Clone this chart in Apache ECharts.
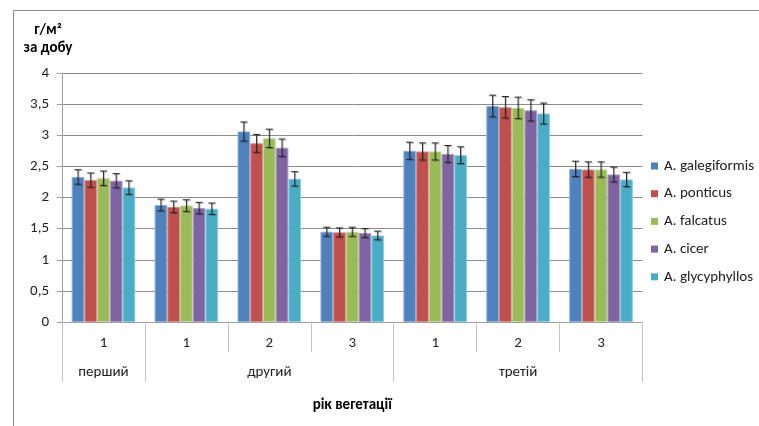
<!DOCTYPE html>
<html>
<head>
<meta charset="utf-8">
<script src="https://cdn.jsdelivr.net/npm/echarts@6/dist/echarts.min.js"></script>
<style>
html,body{margin:0;padding:0;background:#fff;}
#c{width:759px;height:426px;}
</style>
</head>
<body>
<div id="c"></div>
<script>
// ---- data ----
const subCategories = ['1', '1', '2', '3', '1', '2', '3'];
const yearLabels = ['перший', '', 'другий', '', '', 'третій', ''];
const yearTickStarts = [0, 1, 4]; // first category index of each year group
const seriesNames = ['A. galegiformis', 'A. ponticus', 'A. falcatus', 'A. cicer', 'A. glycyphyllos'];
const galegiformis = [2.33, 1.88, 3.06, 1.45, 2.75, 3.47, 2.46];
const ponticus     = [2.28, 1.85, 2.87, 1.44, 2.74, 3.45, 2.45];
const falcatus     = [2.31, 1.87, 2.95, 1.45, 2.74, 3.44, 2.45];
const cicer        = [2.27, 1.83, 2.80, 1.43, 2.70, 3.40, 2.37];
const glycyphyllos = [2.16, 1.82, 2.30, 1.39, 2.68, 3.35, 2.29];
const errorPercent = 0.05; // percentage error bars (±5%)
const yTicks = { min: 0, max: 4, interval: 0.5 };

// ---- styling ----
const seriesValues = [galegiformis, ponticus, falcatus, cicer, glycyphyllos];
const colors = ['#4F81BD', '#C0504D', '#9BBB59', '#8064A2', '#4BACC6'];
const borders = ['#8FB1DA', '#D98F8D', '#C0D69A', '#AE9CC6', '#8DCDDE'];
const FONT = 'Carlito, Lato, sans-serif';
const FS = 15;
const categoryGap = 0.233;
const nSeries = seriesNames.length;

const chart = echarts.init(document.getElementById('c'), null, { renderer: 'canvas' });

const series = [];
seriesValues.forEach((vals, k) => {
  series.push({
    name: seriesNames[k],
    type: 'bar',
    data: vals,
    barGap: '0%',
    barCategoryGap: (categoryGap * 100) + '%',
    itemStyle: { color: colors[k], borderColor: borders[k], borderWidth: 1 },
    emphasis: { disabled: true },
    z: 2
  });
});
seriesValues.forEach((vals, k) => {
  series.push({
    name: 'err' + k,
    type: 'custom',
    z: 5,
    data: vals.map((v, i) => [i, v, v * (1 - errorPercent), v * (1 + errorPercent)]),
    encode: { x: 0, y: [1, 2, 3] },
    renderItem: function (params, api) {
      const ci = api.value(0);
      const lo = api.coord([ci, api.value(2)]);
      const hi = api.coord([ci, api.value(3)]);
      const band = api.size([1, 0])[0];
      const bw = band * (1 - categoryGap) / nSeries;
      const x = lo[0] + (k - (nSeries - 1) / 2) * bw;
      const cap = 3.5;
      const st = { stroke: '#262626', lineWidth: 1 };
      const sh = { stroke: 'rgba(0,0,0,0.25)', lineWidth: 1 };
      return {
        type: 'group',
        children: [
          { type: 'line', shape: { x1: x + 1, y1: lo[1] + 1, x2: x + 1, y2: hi[1] + 1 }, style: sh },
          { type: 'line', shape: { x1: x - cap + 1, y1: hi[1] + 1, x2: x + cap + 1, y2: hi[1] + 1 }, style: sh },
          { type: 'line', shape: { x1: x - cap + 1, y1: lo[1] + 1, x2: x + cap + 1, y2: lo[1] + 1 }, style: sh },
          { type: 'line', shape: { x1: x, y1: lo[1], x2: x, y2: hi[1] }, style: st },
          { type: 'line', shape: { x1: x - cap, y1: hi[1], x2: x + cap, y2: hi[1] }, style: st },
          { type: 'line', shape: { x1: x - cap, y1: lo[1], x2: x + cap, y2: lo[1] }, style: st }
        ]
      };
    }
  });
});

chart.setOption({
  animation: false,
  textStyle: { fontFamily: FONT },
  graphic: [{
    type: 'rect',
    shape: { x: 13.5, y: 10.5, width: 900, height: 600 },
    style: { fill: 'none', stroke: '#8a8a8a', lineWidth: 1 },
    silent: true
  }],
  grid: { left: 62, right: 116.5, top: 73, bottom: 104, containLabel: false },
  legend: {
    data: seriesNames,
    orient: 'vertical',
    left: 651,
    top: 157,
    padding: 0,
    icon: 'rect',
    itemWidth: 7,
    itemHeight: 7,
    itemGap: 9.7,
    itemStyle: { borderWidth: 0 },
    textStyle: { fontFamily: FONT, fontSize: FS, color: '#222', lineHeight: 18, padding: [0, 0, 0, 1] }
  },
  xAxis: [{
    type: 'category',
    data: subCategories,
    position: 'bottom',
    axisLine: { show: true, lineStyle: { color: '#a0a0a0' } },
    axisTick: { show: true, length: 30, lineStyle: { color: '#c4c4c4' } },
    axisLabel: { interval: 0, margin: 14, fontSize: FS, color: '#222', fontFamily: FONT },
    splitLine: { show: false }
  }, {
    type: 'category',
    data: yearLabels,
    position: 'bottom',
    offset: 30,
    axisLine: { show: false },
    axisTick: {
      show: true, length: 30,
      interval: function (idx) { return yearTickStarts.indexOf(idx) >= 0; },
      lineStyle: { color: '#c4c4c4' }
    },
    axisLabel: { interval: 0, margin: 13, fontSize: FS, color: '#222', fontFamily: FONT },
    name: 'рік вегетації',
    nameLocation: 'middle',
    nameGap: 46,
    nameTextStyle: { fontWeight: 'bold', fontSize: FS, color: '#000', fontFamily: FONT },
    splitLine: { show: false }
  }],
  yAxis: {
    type: 'value',
    min: yTicks.min,
    max: yTicks.max,
    interval: yTicks.interval,
    name: 'г/м²\nза добу',
    nameLocation: 'end',
    nameGap: 16,
    nameTextStyle: { fontWeight: 'bold', fontSize: FS, color: '#000', lineHeight: 18, align: 'center', padding: [0, 28, 0, 0], fontFamily: FONT },
    axisLine: { show: true, lineStyle: { color: '#a0a0a0' } },
    axisTick: { show: true, length: 5, lineStyle: { color: '#a0a0a0' } },
    axisLabel: { margin: 13, fontSize: FS, color: '#222', fontFamily: FONT, formatter: v => String(v).replace('.', ',') },
    splitLine: { show: true, lineStyle: { color: '#8c8c8c' } }
  },
  series: series
});
</script>
</body>
</html>
